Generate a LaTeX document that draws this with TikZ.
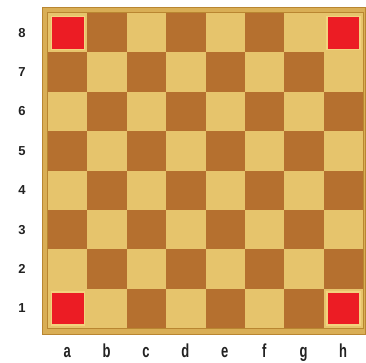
\documentclass[tikz,border=0pt]{standalone}
\usepackage{graphicx}
\usepackage{fontspec}
\setmainfont{Liberation Sans}
\definecolor{lightsq}{HTML}{E6C46C}
\definecolor{darksq}{HTML}{B5702F}
\definecolor{framec}{HTML}{D9AE55}
\definecolor{frameedge}{HTML}{B98631}
\definecolor{redsq}{HTML}{EC1C24}
\definecolor{redrim}{HTML}{F3D27E}
\definecolor{labelc}{HTML}{222222}
\tikzset{
  lbl/.style={font=\fontsize{13}{15}\selectfont\bfseries, text=labelc, inner sep=0pt},
  corner/.style={fill=redsq, draw=redrim, line width=1.4pt}
}
\begin{document}
\begin{tikzpicture}[x=1pt,y=-1pt]
\useasboundingbox (0,0) rectangle (366,362);
\fill[framec] (42,7) rectangle (366,335);
\draw[frameedge, line width=1pt] (42.5,7.5) rectangle (365.5,334.5);
\draw[frameedge, line width=1pt] (47,12) rectangle (363.5,328.5);
\def\sqs{39.4}
\foreach \r in {0,...,7}{
  \foreach \c in {0,...,7}{
    \pgfmathtruncatemacro{\sqpar}{mod(\r+\c,2)}
    \ifnum\sqpar=0
      \fill[lightsq] ({48+\c*\sqs},{13+\r*\sqs}) rectangle ++(\sqs,\sqs);
    \else
      \fill[darksq] ({48+\c*\sqs},{13+\r*\sqs}) rectangle ++(\sqs,\sqs);
    \fi
  }
}
% corner red squares
\foreach \c/\r in {0/0,7/0,0/7,7/7}{
  \fill[lightsq] ({48+\c*\sqs},{13+\r*\sqs}) rectangle ++(\sqs,\sqs);
  \draw[corner] ({48+\c*\sqs+3.2},{13+\r*\sqs+3.2}) rectangle ++({\sqs-6.4},{\sqs-6.4});
}
% rank labels
\foreach \n [count=\i from 0] in {8,7,6,5,4,3,2,1}{
  \node[lbl] (rank\n) at (22,{13+\sqs*(\i+0.5)}) {\n};
}
% file labels
\foreach \f [count=\i from 0] in {a,b,c,d,e,f,g,h}{
  \node[lbl, anchor=base] (file\f) at ({47.5+\sqs*(\i+0.5)},357.5) {\scalebox{1}[1.45]{\f}};
}
\end{tikzpicture}
\end{document}
